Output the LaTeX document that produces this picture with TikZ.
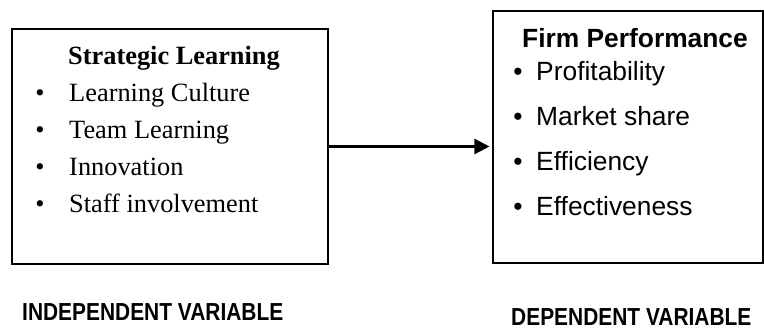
\documentclass[tikz,border=0pt]{standalone}
\usepackage{fontspec}
\setmainfont{Liberation Serif}
\setsansfont{Liberation Sans}
\newfontfamily\narrowbold[FakeStretch=0.85]{Liberation Sans Bold}
\usetikzlibrary{arrows.meta}

\tikzset{
    varbox/.style={draw=black, line width=2pt, inner sep=0pt},
    serifline/.style={inner sep=0pt, font=\fontsize{22.5}{27}\selectfont},
    sansline/.style={inner sep=0pt, font=\sffamily\fontsize{22.5}{27}\selectfont},
    varlabel/.style={inner sep=0pt, anchor=base west, font=\narrowbold\fontsize{21}{25}\selectfont}
}

\begin{document}
\begin{tikzpicture}[x=0.03cm, y=-0.03cm]
    \useasboundingbox (0,0) rectangle (764,331);

    % boxes
    \node[
        varbox, 
        minimum width=9.48cm, 
        minimum height=7.05cm] 
        (learnbox) at (170,146.5) {};
    \node[
        varbox, 
        minimum width=8.1cm, 
        minimum height=7.56cm] 
        (perfbox) at (628,137) {};

    % strategic learning
    \node[serifline, anchor=base, font=\bfseries\fontsize{22.5}{27}\selectfont] 
        (learntitle) at (174,64) {Strategic Learning};
    \node[serifline, anchor=base] (ldot1) at (40,101) {\textbullet};
    \node[serifline, anchor=base west] (litem1) at (69,101) {Learning Culture};
    \node[serifline, anchor=base] (ldot2) at (40,138) {\textbullet};
    \node[serifline, anchor=base west] (litem2) at (69,138) {Team Learning};
    \node[serifline, anchor=base] (ldot3) at (40,175) {\textbullet};
    \node[serifline, anchor=base west] (litem3) at (69,175) {Innovation};
    \node[serifline, anchor=base] (ldot4) at (40,212) {\textbullet};
    \node[serifline, anchor=base west] (litem4) at (69,212) {Staff involvement};

    % firm performance
    \node[sansline, anchor=base, font=\sffamily\bfseries\fontsize{22.5}{27}\selectfont] 
        (perftitle) at (635,47) {Firm Performance};
    \node[sansline, anchor=base] (pdot1) at (518,80) {\textbullet};
    \node[sansline, anchor=base west] (pitem1) at (536,80) {Profitability};
    \node[sansline, anchor=base] (pdot2) at (518,125) {\textbullet};
    \node[sansline, anchor=base west] (pitem2) at (536,125) {Market share};
    \node[sansline, anchor=base] (pdot3) at (518,170) {\textbullet};
    \node[sansline, anchor=base west] (pitem3) at (536,170) {Efficiency};
    \node[sansline, anchor=base] (pdot4) at (518,215) {\textbullet};
    \node[sansline, anchor=base west] (pitem4) at (536,215) {Effectiveness};

    \draw[
        line width=2pt, 
        shorten >=2pt, 
        -{Triangle[length=13pt, width=13pt]}] 
        (learnbox.east) -- (learnbox.east -| perfbox.west);

    % labels
    \node[varlabel] (indlabel) at (22,320) {INDEPENDENT VARIABLE};
    \node[varlabel] (deplabel) at (511,325) {DEPENDENT VARIABLE};
\end{tikzpicture}
\end{document}
